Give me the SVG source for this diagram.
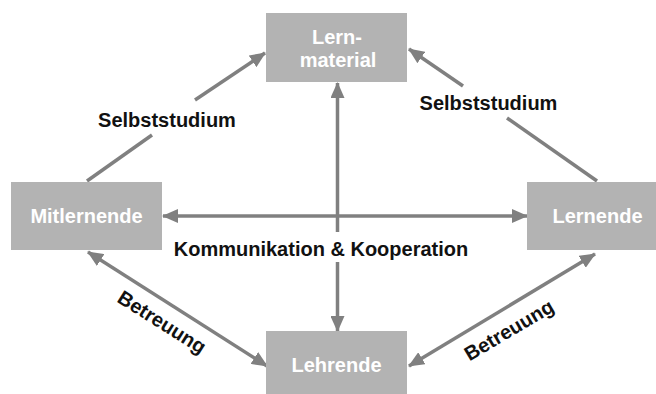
<svg xmlns="http://www.w3.org/2000/svg" width="656" height="394" viewBox="0 0 656 394">
  <style>
    .box { fill: #b3b3b3; }
    .nt { font-family: "Liberation Sans", Arial, sans-serif; font-weight: bold; font-size: 20px; fill: #ffffff; text-anchor: middle; }
    .lbl { font-family: "Liberation Sans", Arial, sans-serif; font-weight: bold; font-size: 20px; fill: #111111; text-anchor: middle; }
    .ln { stroke: #808080; stroke-width: 3.5; fill: none; }
  </style>
  <defs>
    <marker id="ah" markerUnits="userSpaceOnUse" markerWidth="16" markerHeight="14" refX="15" refY="7" orient="auto-start-reverse" viewBox="0 0 16 14">
      <path d="M0,0 L16,7 L0,14 z" fill="#808080"/>
    </marker>
  </defs>
  <rect width="656" height="394" fill="#ffffff"/>

  <g id="connectors">
    <!-- Selbststudium left -->
    <line class="ln" x1="87" y1="181" x2="152" y2="135"/>
    <line class="ln" x1="195" y1="100" x2="265" y2="53" marker-end="url(#ah)"/>
    <!-- Selbststudium right -->
    <line class="ln" x1="597" y1="181" x2="507" y2="118"/>
    <line class="ln" x1="463" y1="86" x2="409" y2="49" marker-end="url(#ah)"/>
    <!-- vertical -->
    <line class="ln" x1="337.5" y1="232" x2="337.5" y2="83" marker-end="url(#ah)"/>
    <line class="ln" x1="337.5" y1="262" x2="337.5" y2="331" marker-end="url(#ah)"/>
    <!-- horizontal -->
    <line class="ln" x1="163" y1="216" x2="527" y2="216" marker-start="url(#ah)" marker-end="url(#ah)"/>
    <!-- Betreuung left -->
    <line class="ln" x1="88" y1="252" x2="267" y2="366" marker-start="url(#ah)" marker-end="url(#ah)"/>
    <!-- Betreuung right -->
    <line class="ln" x1="595" y1="254" x2="409" y2="366" marker-start="url(#ah)" marker-end="url(#ah)"/>
  </g>

  <g id="labels">
    <text class="lbl" x="167" y="127">Selbststudium</text>
    <text class="lbl" x="488.5" y="110">Selbststudium</text>
    <text class="lbl" x="321" y="256">Kommunikation &amp; Kooperation</text>
    <text class="lbl" transform="translate(162,322) rotate(32.3)" x="0" y="7">Betreuung</text>
    <text class="lbl" transform="translate(509,330) rotate(-30.7)" x="0" y="7">Betreuung</text>
  </g>

  <g id="node-lernmaterial">
    <rect class="box" x="266" y="13" width="141" height="69"/>
    <text class="nt" x="337" y="44">Lern-</text>
    <text class="nt" x="338" y="67">material</text>
  </g>
  <g id="node-mitlernende">
    <rect class="box" x="11" y="182" width="151" height="68"/>
    <text class="nt" x="86.5" y="223">Mitlernende</text>
  </g>
  <g id="node-lernende">
    <rect class="box" x="527" y="182" width="141" height="68"/>
    <text class="nt" x="597.5" y="223">Lernende</text>
  </g>
  <g id="node-lehrende">
    <rect class="box" x="266" y="331" width="141" height="63"/>
    <text class="nt" x="336.5" y="372">Lehrende</text>
  </g>
</svg>
